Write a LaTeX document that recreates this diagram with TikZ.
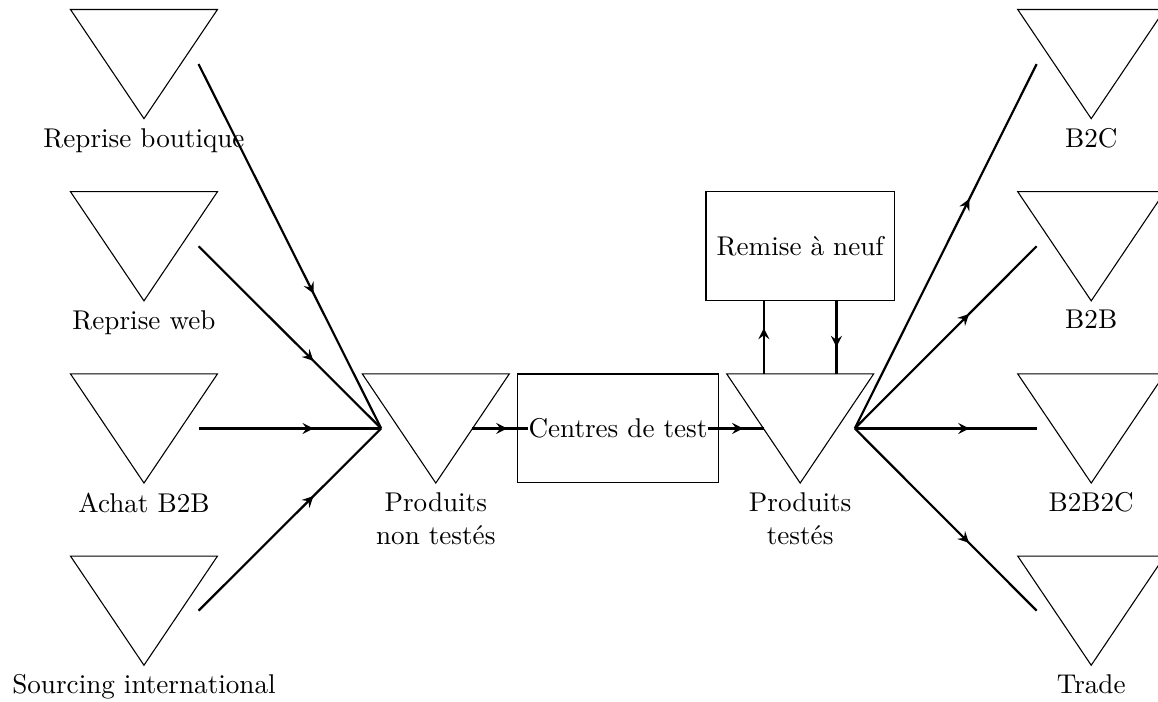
\documentclass[tikz,border=0pt]{standalone}
\usepackage{amsmath}
\usepackage{tikz}
\usetikzlibrary{shapes.geometric, arrows, positioning, decorations.markings}

\begin{document}
\begin{tikzpicture}[node distance=2.36cm, auto, >=stealth,
    stock/.style={rectangle, minimum width=1.4cm, minimum height=1.4cm, inner sep=0pt},
    process/.style={rectangle, draw=black, minimum height=1.41cm},
    flow/.style={thick, postaction={decorate},
                 decoration={markings, mark=at position 0.63 with {\arrow{>}}}}]
    \useasboundingbox (0,0) rectangle (15,-9.09);

    % Sources
    \node[stock, label=below:{Reprise boutique}] (reprbout) at (1.865,-0.83) {};
    \node[stock, label=below:{Reprise web}, below of=reprbout] (reprweb) {};
    \node[stock, label=below:{Achat B2B}, below of=reprweb] (achat) {};
    \node[stock, label=below:{Sourcing international}, below of=achat] (sourcing) {};

    % Stocks and processes
    \node[stock, label={[align=center]below:Produits\\non testés}, right of=achat, node distance=3.78cm] (nontest) {};
    \node[process, minimum width=2.6cm, right of=nontest] (testbox) {};
    \node[inner sep=0pt] (centres) at (testbox) {Centres de test};
    \node[stock, label={[align=center]below:Produits\\testés}, right of=testbox] (teste) {};
    \node[process, minimum width=2.44cm, above of=teste] (remise) {Remise à neuf};

    % Channels
    \node[stock, label=below:{B2B2C}, right of=teste, node distance=3.77cm] (btobtoc) {};
    \node[stock, label=below:{B2B}, above of=btobtoc] (btob) {};
    \node[stock, label=below:{B2C}, above of=btob] (btoc) {};
    \node[stock, label=below:{Trade}, below of=btobtoc] (trade) {};

    % Triangles
    \foreach \n in {reprbout, reprweb, achat, sourcing, nontest, teste, btoc, btob, btobtoc, trade}
        \draw ([xshift=-2.45mm]\n.north west) -- ([xshift=2.45mm]\n.north east) -- (\n.south) -- cycle;

    % Flows
    \draw[flow] (reprbout.east) -- (nontest.west);
    \draw[flow] (reprweb.east) -- (nontest.west);
    \draw[flow] (achat.east) -- (nontest.west);
    \draw[flow] (sourcing.east) -- (nontest.west);
    \draw[flow] ([xshift=4.7mm]nontest.center) -- (centres);
    \draw[flow] (centres) -- ([xshift=-4.7mm]teste.center);
    \draw[flow] ([xshift=-4.7mm]teste.north) -- ([xshift=-4.7mm]remise.south);
    \draw[flow] ([xshift=4.7mm]remise.south) -- ([xshift=4.7mm]teste.north);
    \draw[flow] (teste.east) -- (btoc.west);
    \draw[flow] (teste.east) -- (btob.west);
    \draw[flow] (teste.east) -- (btobtoc.west);
    \draw[flow] (teste.east) -- (trade.west);

\end{tikzpicture}
\end{document}
